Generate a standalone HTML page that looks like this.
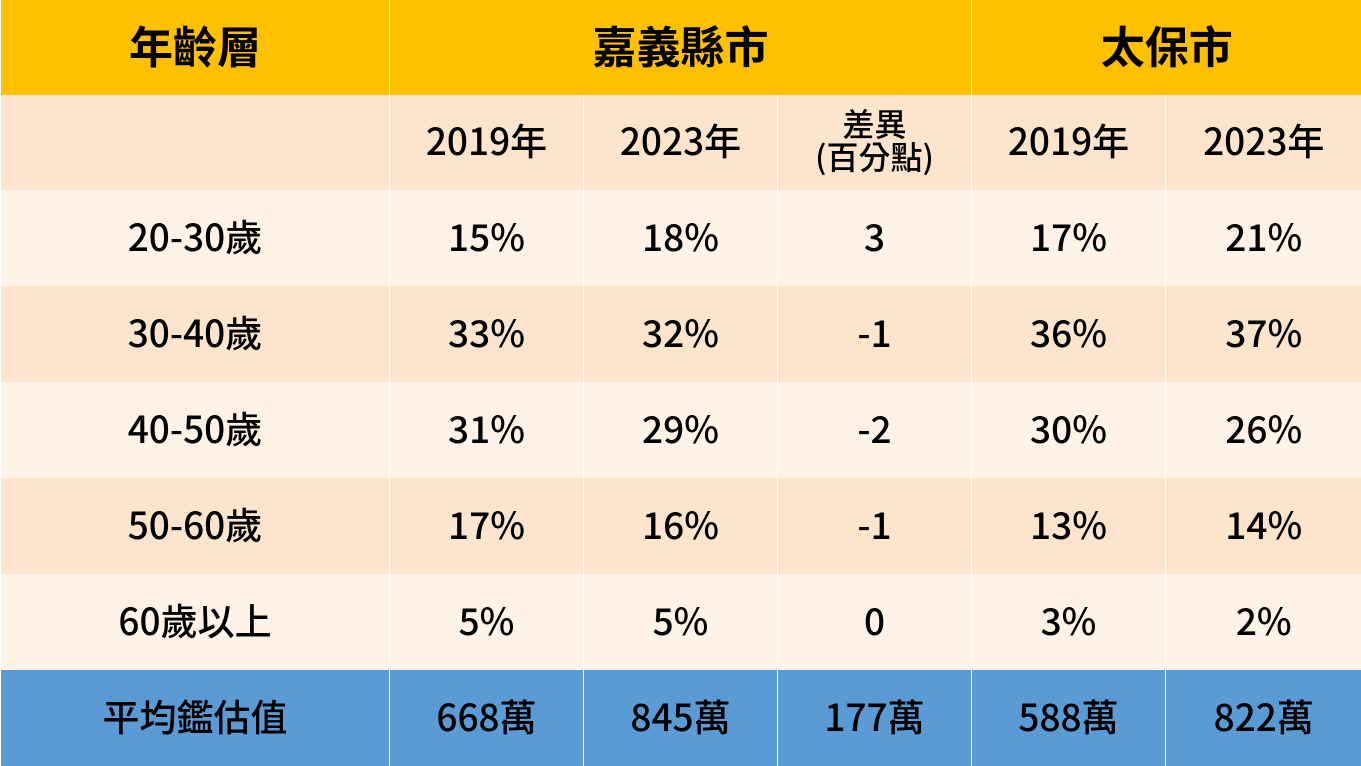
<!DOCTYPE html>
<html><head><meta charset="utf-8"><style>
html,body{margin:0;padding:0;width:1361px;height:766px;overflow:hidden;background:#fff}
table{border-collapse:collapse;table-layout:fixed;width:1361px;font-family:"Noto Sans CJK TC","Liberation Sans",sans-serif;color:#000}
td{text-align:center;vertical-align:middle;padding:0 0 6px 0;height:90px;font-size:37px;font-weight:500;border-left:1px solid rgba(255,255,255,0.35);line-height:1.1;overflow:hidden}
.h td{background:#FFC000;font-weight:bold;font-size:44px;height:89px}
.s td{background:#FDE5CD;line-height:33px;height:89px}
.a td{background:#FEF3E6}
.b td{background:#FDE5CD}
.f td{background:#5B9BD5}
</style></head><body>
<table>
<colgroup><col style="width:389px"><col style="width:194px"><col style="width:194px"><col style="width:194px"><col style="width:194px"><col style="width:196px"></colgroup>
<tr class="h"><td>年齡層</td><td colspan="3">嘉義縣市</td><td colspan="2">太保市</td></tr>
<tr class="s"><td></td><td>2019年</td><td>2023年</td><td style="font-size:32px">差異<br>(百分點)</td><td>2019年</td><td>2023年</td></tr>
<tr class="a"><td>20-30歲</td><td>15%</td><td>18%</td><td>3</td><td>17%</td><td>21%</td></tr>
<tr class="b"><td>30-40歲</td><td>33%</td><td>32%</td><td>-1</td><td>36%</td><td>37%</td></tr>
<tr class="a"><td>40-50歲</td><td>31%</td><td>29%</td><td>-2</td><td>30%</td><td>26%</td></tr>
<tr class="b"><td>50-60歲</td><td>17%</td><td>16%</td><td>-1</td><td>13%</td><td>14%</td></tr>
<tr class="a"><td>60歲以上</td><td>5%</td><td>5%</td><td>0</td><td>3%</td><td>2%</td></tr>
<tr class="f"><td>平均鑑估值</td><td>668萬</td><td>845萬</td><td>177萬</td><td>588萬</td><td>822萬</td></tr>
</table>
</body></html>
